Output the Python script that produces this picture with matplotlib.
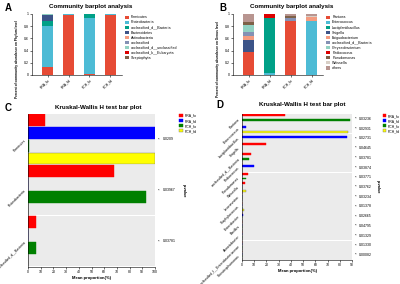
import numpy as np
import matplotlib
matplotlib.use('Agg')
import matplotlib.pyplot as plt
from matplotlib.patches import Patch
from matplotlib.transforms import blended_transform_factory

plt.rcParams['font.family'] = ['Liberation Sans', 'DejaVu Sans']

# --- data ---
samples = ['PRA_fo', 'PRA_fd', 'PCH_fo', 'PCH_fd']

phylum_names = ['Firmicutes', 'Proteobacteria', 'unclassified_d__Bacteria', 'Bacteroidetes',
                'Actinobacteria', 'unclassified', 'unclassified_d__unclassified',
                'unclassified_k__Eukaryota', 'Streptophyta']
firmicutes = [0.13, 0.99, 0.01, 0.99]
proteobacteria = [0.68, 0.005, 0.93, 0.005]
uncl_bacteria = [0.07, 0.0, 0.055, 0.0]
bacteroidetes = [0.10, 0.0, 0.0, 0.0]
actinobacteria = [0.005, 0.0, 0.002, 0.0]
unclassified = [0.005, 0.0, 0.002, 0.0]
uncl_uncl = [0.004, 0.002, 0.001, 0.002]
uncl_eukaryota = [0.003, 0.002, 0.0, 0.002]
streptophyta = [0.003, 0.001, 0.0, 0.001]
phylum_vals = [firmicutes, proteobacteria, uncl_bacteria, bacteroidetes, actinobacteria,
               unclassified, uncl_uncl, uncl_eukaryota, streptophyta]

genus_names = ['Pantoea', 'Enterococcus', 'Lactiplantibacillus', 'Shigella', 'Exiguobacterium',
               'unclassified_d__Bacteria', 'Chryseobacterium', 'Pediococcus', 'Pseudomonas',
               'Weissella', 'others']
pantoea = [0.37, 0.0, 0.88, 0.0]
enterococcus = [0.0, 0.03, 0.0, 0.88]
lactiplantibacillus = [0.0, 0.90, 0.0, 0.0]
shigella = [0.20, 0.0, 0.0, 0.0]
exiguobacterium = [0.07, 0.0, 0.0, 0.07]
g_uncl_bacteria = [0.07, 0.0, 0.06, 0.0]
chryseobacterium = [0.11, 0.0, 0.0, 0.0]
pediococcus = [0.0, 0.07, 0.0, 0.0]
pseudomonas = [0.04, 0.0, 0.03, 0.0]
weissella = [0.01, 0.0, 0.0, 0.02]
others = [0.13, 0.0, 0.03, 0.03]
genus_vals = [pantoea, enterococcus, lactiplantibacillus, shigella, exiguobacterium,
              g_uncl_bacteria, chryseobacterium, pediococcus, pseudomonas, weissella, others]

npg = ['#E64B35', '#4DBBD5', '#00A087', '#3C5488', '#F39B7F', '#8491B4', '#91D1C2',
       '#DC0000', '#7E6148', '#D8CFC6', '#B89590']

# Kruskal-Wallis, phylum level (mean %)
kw_phylum = ['Firmicutes', 'Proteobacteria', 'unclassified_d__Bacteria']
kwp_pra_fo = [13, 68, 6.5]
kwp_pra_fd = [100, 0.3, 0]
kwp_pch_fo = [1, 93, 6]
kwp_pch_fd = [100, 0.3, 0]
kwp_pvals = ['0.0209', '0.03967', '0.03781']

# Kruskal-Wallis, genus level (mean %)
kw_genus = ['Pantoea', 'Enterococcus', 'Lactiplantibacillus', 'Shigella',
            'unclassified_d__Bacteria', 'Pediococcus', 'Pseudomonas', 'Weissella',
            'Leuconostoc', 'Staphylococcus', 'Enterobacter', 'Bacillus', 'Acinetobacter',
            'unclassified_f__Enterobacteriaceae', 'Stenotrophomonas']
kwg_pra_fo = [35, 0.3, 0, 20, 7, 0, 5, 2.5, 0, 0, 0, 0, 0, 0, 0]
kwg_pra_fd = [0, 3, 86, 0, 0, 9.5, 0, 0, 0, 0, 0.5, 0, 0, 0, 0]
kwg_pch_fo = [88, 0, 0, 0, 6, 0, 3, 0, 0, 0, 0, 0.4, 0, 0, 0]
kwg_pch_fd = [0, 87, 0, 0, 0, 0, 0, 3.5, 0, 1.5, 0, 0, 0, 0, 0]
kwg_pvals = ['0.03236', '0.02931', '0.02731', '0.04645', '0.03781', '0.03874', '0.03771',
             '0.03762', '0.03234', '0.01378', '0.02665', '0.04795', '0.01329', '0.01330',
             '0.00082']

group_colors = ['#FF0000', '#0000FF', '#008000', '#FFFF00']

fig = plt.figure(figsize=(4.0, 2.84), dpi=100)


def stacked(rect, names, vals, ylab, title, letter, lx):
    ax = fig.add_axes(rect)
    x = np.arange(len(samples))
    bottom = np.zeros(len(samples))
    for name, v, c in zip(names, vals, npg):
        ax.bar(x, v, 0.52, bottom=bottom, color=c, label=name)
        bottom += np.array(v)
    ax.set_xlim(-0.74, 3.55)
    ax.set_ylim(0, 1.0)
    ax.set_yticks([0, 0.2, 0.4, 0.6, 0.8, 1])
    ax.set_yticklabels(['0', '0.2', '0.4', '0.6', '0.8', '1'])
    ax.set_xticks(x)
    ax.set_xticklabels(samples, rotation=45, ha='right', rotation_mode='anchor')
    ax.tick_params(labelsize=2.5, length=1.5, width=0.4, pad=1)
    for s in ['top', 'right']:
        ax.spines[s].set_visible(False)
    for s in ['left', 'bottom']:
        ax.spines[s].set_linewidth(0.4)
    ax.set_ylabel(ylab, fontsize=2.3, fontweight='bold')
    ax.yaxis.set_label_coords(-0.145, 0.26)
    ax.legend(loc='upper left', bbox_to_anchor=(1.02, 1.0), frameon=False, fontsize=2.6,
              handlelength=1.0, handleheight=1.0, labelspacing=0.3, handletextpad=0.6,
              borderaxespad=0)
    fig.text(rect[0] + rect[2] * 0.65, 0.985, title, ha='center', va='top',
             fontsize=4.5, fontweight='bold')
    fig.text(lx, 0.99, letter, ha='left', va='top', fontsize=7, fontweight='bold')
    return ax


stacked([0.08, 0.736, 0.225, 0.215], phylum_names, phylum_vals,
        'Percent of community abundance on Phylum level',
        'Community barplot analysis', 'A', 0.012)
stacked([0.583, 0.736, 0.225, 0.215], genus_names, genus_vals,
        'Percent of community abundance on Genus level',
        'Community barplot analysis', 'B', 0.548)


def kw_plot(rect, cats, groups, pvals, xmax, barh, title, letter, lx, ty, legx):
    ax = fig.add_axes(rect)
    n = len(cats)
    for i in range(n):
        ax.axhspan(i - 0.49, i + 0.49, color='#EBEBEB', lw=0, zorder=0)
    for j, (vals, c) in enumerate(zip(groups, group_colors)):
        y = np.arange(n) - 0.375 + j * 0.25
        ec = '#777777' if c == '#FFFF00' else c
        ax.barh(y, vals, barh, color=c, edgecolor=ec, linewidth=0.3, zorder=2,
                label=samples[j])
    ax.set_ylim(n - 0.5, -0.5)
    ax.set_xlim(0, xmax)
    ax.set_xticks(np.arange(0, xmax + 1, 10))
    ax.set_yticks(np.arange(n))
    ax.set_yticklabels(cats, rotation=45, ha='right', va='center', rotation_mode='anchor')
    ax.tick_params(axis='x', labelsize=2.5, length=1.5, width=0.4, pad=1)
    ax.tick_params(axis='y', labelsize=2.5, length=0, pad=2)
    for s in ['top', 'right']:
        ax.spines[s].set_visible(False)
    for s in ['left', 'bottom']:
        ax.spines[s].set_linewidth(0.4)
    ax.set_xlabel('Mean proportion(%)', fontsize=3, fontweight='bold', labelpad=1)
    tr = blended_transform_factory(ax.transAxes, ax.transData)
    for i, p in enumerate(pvals):
        ax.text(1.025, i, '*', transform=tr, fontsize=3, ha='left', va='center')
        ax.text(1.06, i, p, transform=tr, fontsize=2.5, ha='left', va='center')
    ax.text(1.23, 0.5, 'p-value', transform=ax.transAxes, rotation=270, fontsize=2.8,
            fontweight='bold', ha='center', va='center')
    handles = [Patch(facecolor=c, edgecolor='#777777' if c == '#FFFF00' else c, lw=0.3)
               for c in group_colors]
    fig.legend(handles, samples, loc='upper left', bbox_to_anchor=(legx, rect[1] + rect[3] + 0.005),
               frameon=False, fontsize=2.5, handlelength=1.0, handleheight=1.0,
               labelspacing=0.3, handletextpad=0.5, borderaxespad=0)
    fig.text(rect[0] + rect[2] * 0.55, ty, title, ha='center', va='top',
             fontsize=4.5, fontweight='bold')
    fig.text(lx, ty + 0.005, letter, ha='left', va='top', fontsize=7, fontweight='bold')
    return ax


kw_plot([0.07, 0.06, 0.3175, 0.539], kw_phylum,
        [kwp_pra_fo, kwp_pra_fd, kwp_pch_fo, kwp_pch_fd], kwp_pvals, 100, 0.23,
        'Kruskal-Wallis H test bar plot', 'C', 0.012, 0.632, 0.445)
kw_plot([0.605, 0.0845, 0.275, 0.514], kw_genus,
        [kwg_pra_fo, kwg_pra_fd, kwg_pch_fo, kwg_pch_fd], kwg_pvals, 90, 0.2,
        'Kruskal-Wallis H test bar plot', 'D', 0.54, 0.642, 0.953)

fig.savefig('out.png', dpi=100)
